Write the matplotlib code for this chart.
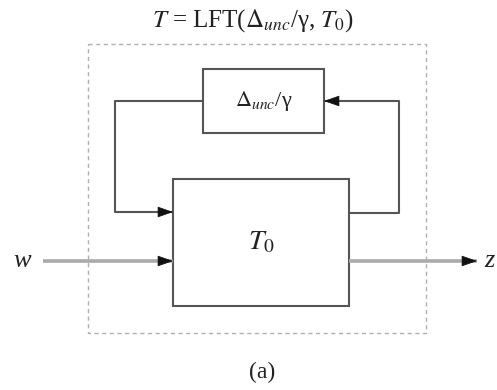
import matplotlib
matplotlib.use("Agg")
import matplotlib.pyplot as plt
from matplotlib.patches import Rectangle

plt.rcParams["font.family"] = ["Liberation Serif", "DejaVu Serif"]
plt.rcParams["mathtext.fontset"] = "stix"

# diagram content (pixel units of the 497x390 canvas)
title = r"$T$ = LFT($\Delta_{unc}$/γ, $T_0$)"
caption = "(a)"
block_labels = [r"$\Delta_{unc}$/γ", r"$T_0$"]
block_boxes = [(203, 69, 121, 64), (173, 179, 176, 127)]  # x, y, w, h
outer_box = (88, 44, 338, 289)
signal_labels = ["w", "z"]

fig = plt.figure(figsize=(4.97, 3.90), dpi=100)
ax = fig.add_axes([0, 0, 1, 1])
ax.set_xlim(0, 497)
ax.set_ylim(390, 0)
ax.axis("off")

# dashed outer frame
ox, oy, ow, oh = outer_box
ax.add_patch(Rectangle((ox, oy), ow, oh, fill=False, ec="#b0b0b0",
                       lw=1.0, ls=(0, (3, 2.5))))

# blocks
for (bx, by, bw, bh), lab, fs in zip(block_boxes, block_labels, [16, 20]):
    ax.add_patch(Rectangle((bx, by), bw, bh, fill=False, ec="#555555", lw=1.5))
    ax.text(bx + bw / 2, by + bh / 2, lab, ha="center", va="center",
            fontsize=fs, color="#222222")

def arrow(pts, color="#666666", lw=1.5):
    xs = [p[0] for p in pts]
    ys = [p[1] for p in pts]
    ax.plot(xs, ys, color=color, lw=lw, solid_capstyle="butt")
    # head only: a short stub pointing at the last point
    (x0, y0), (x1, y1) = pts[-2], pts[-1]
    dx = (x1 - x0) / max(abs(x1 - x0), abs(y1 - y0))
    dy = (y1 - y0) / max(abs(x1 - x0), abs(y1 - y0))
    ax.annotate("", xy=(x1, y1), xytext=(x1 - 14 * dx, y1 - 14 * dy),
                arrowprops=dict(arrowstyle="-|>,head_length=1.0,head_width=0.35",
                                fc="#111111", ec="#111111", lw=0.5,
                                shrinkA=0, shrinkB=0))

d = block_boxes[0]
t = block_boxes[1]
d_mid = d[1] + d[3] / 2
# feedback: delta -> T0
arrow([(d[0], d_mid), (115, d_mid), (115, 212), (t[0], 212)], color="#555555")
# feedback: T0 -> delta
arrow([(t[0] + t[2], 213), (399, 213), (399, d_mid), (d[0] + d[2], d_mid)],
      color="#555555")
# external input / output
arrow([(43, 261), (t[0], 261)], color="#aaaaaa", lw=2.6)
arrow([(t[0] + t[2], 261), (477, 261)], color="#aaaaaa", lw=2.6)

ax.text(22, 261, signal_labels[0], ha="center", va="center", fontsize=19,
        style="italic", color="#222222")
ax.text(489, 261, signal_labels[1], ha="center", va="center", fontsize=19,
        style="italic", color="#222222")

ax.text(253, 21, title, ha="center", va="center", fontsize=18, color="#222222")
ax.text(262, 372, caption, ha="center", va="center", fontsize=17, color="#222222")

fig.savefig("out.png", dpi=100)
